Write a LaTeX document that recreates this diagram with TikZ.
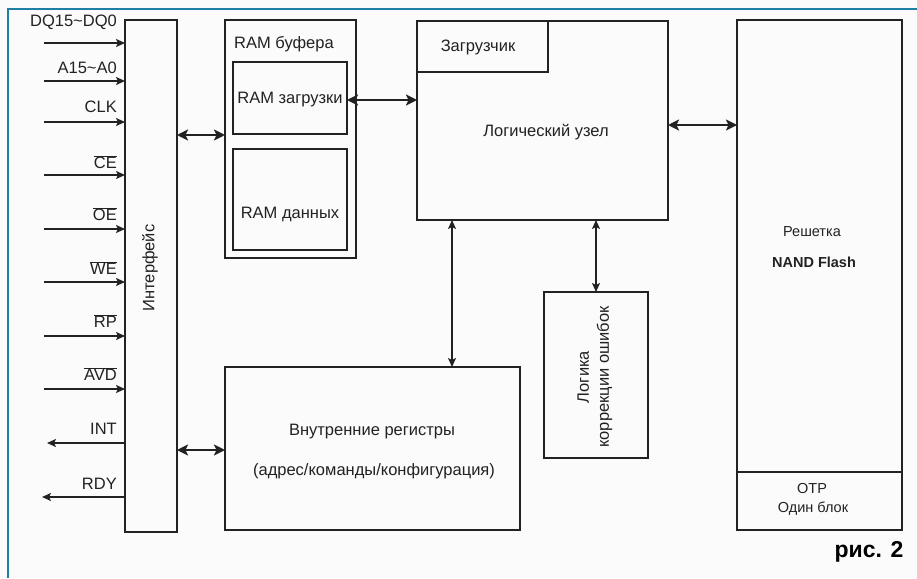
\documentclass[tikz,border=0pt]{standalone}
\usepackage{fontspec}
\setmainfont{Liberation Sans}
\usetikzlibrary{arrows.meta}
\definecolor{frame}{HTML}{1F7FA3}
\definecolor{ink}{HTML}{222222}
\definecolor{bg}{HTML}{FBFBFB}
\begin{document}
\begin{tikzpicture}[x=1pt,y=-1pt,
  blk/.style={draw=ink,line width=1.5pt},
  lbl/.style={text=ink,font=\fontsize{16.5}{19}\selectfont,inner sep=0pt},
  sml/.style={text=ink,font=\fontsize{14.5}{17}\selectfont,inner sep=0pt},
  sig/.style={draw=ink,line width=2.2pt,-{Stealth[length=9pt,width=8pt,inset=2pt]}},
  bus/.style={draw=ink,line width=2.6pt,{Stealth[length=11pt,width=11pt,inset=2.5pt]}-{Stealth[length=11pt,width=11pt,inset=2.5pt]}},
  vbus/.style={draw=ink,line width=1.6pt,{Stealth[length=9pt,width=8pt,inset=2pt]}-{Stealth[length=9pt,width=8pt,inset=2pt]}}]
\useasboundingbox (0,0) rectangle (917,578);
\fill[bg] (0,0) rectangle (917,578);
\draw[frame,line width=1.5pt] (8,578) -- (8,9) -- (917,9);
% boxes
\draw[blk] (125,20) rectangle (177,532);
\node[lbl,rotate=90] (intf) at (150,268) {Интерфейс};
\draw[blk] (225,20) rectangle (356,258);
\node[lbl,anchor=west] (rambuf) at (234,44) {RAM буфера};
\draw[blk] (233,62) rectangle (347,134);
\node[lbl] (ramld) at (290,100) {RAM загрузки};
\draw[blk] (233,149) rectangle (347,250);
\node[lbl] (ramdat) at (290,214) {RAM данных};
\draw[blk] (417,21) rectangle (668,220);
\draw[blk] (417,72) -- (548,72) -- (548,21);
\node[lbl] (boot) at (478,47) {Загрузчик};
\node[lbl] (logic) at (546,132) {Логический узел};
\draw[blk] (225,367) rectangle (520,530);
\node[lbl] (reg1) at (372,432) {Внутренние регистры};
\node[lbl] (reg2) at (374,471) {(адрес/команды/конфигурация)};
\draw[blk] (544,292) rectangle (648,458);
\node[lbl,rotate=90,align=center,font=\fontsize{16.5}{20}\selectfont] (ecc) at (595,377) {Логика\\коррекции ошибок};
\draw[blk] (737,20) rectangle (902,530);
\draw[blk] (737,472) -- (902,472);
\node[sml] (nand1) at (812,232) {Решетка};
\node[sml,font=\bfseries\fontsize{14.5}{17}\selectfont] (nand2) at (814,262) {NAND Flash};
\node[sml] (otp1) at (812,489) {OTP};
\node[sml] (otp2) at (813,509) {Один блок};
\node[lbl,text=black,font=\bfseries\fontsize{23}{26}\selectfont] (fig) at (869,552) {рис. 2};
% bus arrows
\coordinate (a1) at (177,135); \coordinate (b1) at (225,135);
\draw[bus] (a1) -- (b1);
\coordinate (a2) at (177,450); \coordinate (b2) at (225,450);
\draw[bus] (a2) -- (b2);
\coordinate (a3) at (347,100); \coordinate (b3) at (417,100);
\draw[bus] (a3) -- (b3);
\coordinate (a4) at (668,125); \coordinate (b4) at (737,125);
\draw[bus] (a4) -- (b4);
\coordinate (a5) at (452,220); \coordinate (b5) at (452,367);
\draw[vbus] (a5) -- (b5);
\coordinate (a6) at (596,220); \coordinate (b6) at (596,292);
\draw[vbus] (a6) -- (b6);
% signals
\foreach \ly/\sy/\t in {22/43/{DQ15\textasciitilde DQ0},68/81/{A15\textasciitilde A0},107/122/CLK,162/175/{$\overline{\mbox{CE}}$},214/229/{$\overline{\mbox{OE}}$},268/282/{$\overline{\mbox{WE}}$},321/336/{$\overline{\mbox{RP}}$},374/389/{$\overline{\mbox{AVD}}$}}{
  \node[lbl,anchor=east] (s\sy) at (117,\ly) {\t};
  \coordinate (p\sy) at (44,\sy);
  \coordinate (q\sy) at (125,\sy);
  \draw[sig] (p\sy) -- (q\sy);
}
\node[lbl,anchor=east] (sint) at (117,429) {INT};
\coordinate (pint) at (125,443); \coordinate (qint) at (47,443);
\draw[sig] (pint) -- (qint);
\node[lbl,anchor=east] (srdy) at (117,484) {RDY};
\coordinate (prdy) at (125,497); \coordinate (qrdy) at (42,497);
\draw[sig] (prdy) -- (qrdy);
\end{tikzpicture}
\end{document}
